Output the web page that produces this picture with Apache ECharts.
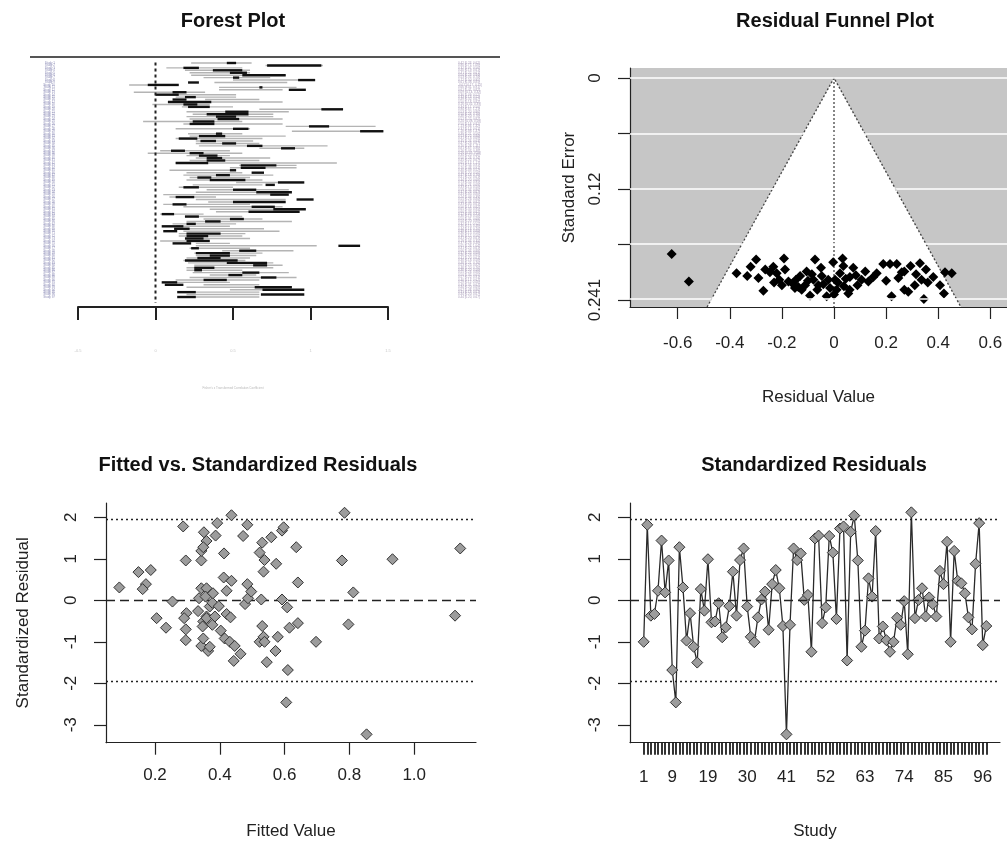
<!DOCTYPE html>
<html><head><meta charset="utf-8">
<script src="https://cdn.jsdelivr.net/npm/echarts@6/dist/echarts.min.js"></script>
<style>html,body{margin:0;padding:0;background:#fff}#c{width:1007px;height:844px}</style>
</head><body><div id="c"></div>
<script>
// ---------- data ----------
const stdResiduals = [-1.0,1.82,-0.37,-0.33,0.23,1.44,0.19,0.96,-1.68,-2.46,
 1.28,0.31,-0.97,-0.31,-1.12,-1.50,0.27,-0.25,0.99,-0.53,
 -0.51,-0.07,-0.89,-0.65,-0.14,0.69,-0.37,0.97,1.25,-0.15,
 -0.88,-1.01,-0.41,0.02,0.21,-0.71,0.39,0.73,0.29,-0.62,
 -3.23,-0.59,1.25,0.97,1.13,0.01,0.13,-1.24,1.49,1.56,
 -0.55,-0.17,1.55,1.15,-0.45,1.73,1.78,-1.45,1.65,2.04,
 0.96,-1.12,-0.73,0.53,0.09,1.67,-0.92,-0.63,-0.96,-1.24,
 -1.0,-0.42,-0.59,-0.02,-1.30,2.12,-0.43,0.01,0.29,-0.39,
 0.07,-0.09,-0.39,0.71,0.39,1.41,-1.0,1.19,0.47,0.41,
 0.17,-0.41,-0.70,0.88,1.86,-1.08,-0.62];

const fittedValues = [0.090,0.149,0.172,0.162,0.187,0.205,0.234,0.254,0.287,0.295,
 0.297,0.290,0.295,0.295,0.333,0.336,0.343,0.343,0.343,0.351,
 0.359,0.349,0.359,0.356,0.349,0.347,0.359,0.359,0.369,0.377,
 0.379,0.377,0.343,0.349,0.364,0.369,0.385,0.387,0.392,0.403,
 0.397,0.413,0.421,0.412,0.436,0.436,0.415,0.431,0.421,0.433,
 0.446,0.443,0.464,0.472,0.485,0.478,0.485,0.487,0.497,0.523,
 0.528,0.531,0.538,0.535,0.523,0.531,0.535,0.538,0.545,0.559,
 0.574,0.572,0.579,0.592,0.597,0.592,0.608,0.615,0.636,0.641,
 0.641,0.610,0.605,0.697,0.777,0.785,0.812,0.797,0.853,0.933,
 1.126,1.142];
const fittedResiduals = [0.31,0.68,0.39,0.27,0.73,-0.43,-0.66,-0.03,1.78,0.96,
 -0.31,-0.43,-0.70,-0.96,-0.26,0.05,0.29,0.96,1.19,1.64,
 1.43,1.28,0.29,0.09,-0.51,-0.63,-0.39,-0.43,-0.15,-0.06,
 0.17,-0.59,-1.10,-0.92,-1.22,-1.12,-0.39,1.56,1.86,-0.73,
 -0.14,1.13,0.23,0.55,2.05,0.47,-0.92,-1.0,-0.33,-0.41,
 -1.10,-1.46,-1.29,1.55,1.82,-0.09,0.39,0.05,0.21,1.15,
 0.02,1.39,0.97,0.69,-1.0,-0.62,-0.88,-1.0,-1.49,1.52,
 0.88,-1.22,-0.88,1.68,1.76,0.02,-0.17,-0.66,1.28,0.43,
 -0.55,-1.68,-2.46,-1.0,0.96,2.11,0.19,-0.58,-3.23,0.99,
 -0.37,1.25];

const funnelResiduals = [-0.623,-0.557,-0.374,-0.333,-0.299,-0.290,-0.271,-0.264,-0.246,-0.233,
 -0.220,-0.210,-0.192,-0.188,-0.175,-0.159,-0.146,-0.137,-0.124,-0.111,
 -0.105,-0.092,-0.073,-0.079,-0.064,-0.047,-0.041,-0.028,-0.022,-0.003,
 0.004,0.010,0.023,0.033,0.036,0.038,0.055,0.061,0.074,0.084,
 0.106,0.132,0.151,0.164,0.189,0.215,0.221,0.241,0.247,0.260,
 0.270,0.285,0.294,0.315,0.330,0.336,0.345,0.353,0.381,0.407,
 0.422,0.426,0.452,
 -0.200,-0.150,-0.100,-0.060,-0.015,0.015,0.045,-0.130,-0.050,0.090,
 0.120,0.200,0.310,-0.230,-0.320,0.000,-0.085,0.060,0.360,0.270];
const funnelSE = [0.191,0.221,0.212,0.215,0.197,0.217,0.231,0.208,0.211,0.205,
 0.212,0.219,0.196,0.208,0.221,0.223,0.219,0.227,0.230,0.225,
 0.210,0.236,0.197,0.219,0.230,0.215,0.224,0.237,0.219,0.200,
 0.219,0.230,0.212,0.196,0.204,0.226,0.234,0.216,0.206,0.214,
 0.219,0.221,0.216,0.212,0.202,0.202,0.237,0.202,0.217,0.211,
 0.230,0.232,0.204,0.213,0.201,0.219,0.240,0.208,0.216,0.225,
 0.234,0.211,0.212,
 0.225,0.228,0.220,0.225,0.228,0.222,0.218,0.215,0.206,0.225,
 0.210,0.220,0.225,0.222,0.205,0.235,0.213,0.230,0.222,0.210];

const forestCiLo = [0.23,0.71,0.07,0.19,0.22,0.23,0.31,0.50,0.38,-0.17,
 0.41,0.41,-0.14,0.09,0.13,0.32,0.18,-0.02,0.17,0.67,
 0.20,0.24,0.20,0.22,-0.08,0.18,0.84,0.13,0.88,0.21,
 0.22,0.13,0.26,0.26,0.28,0.67,0.03,-0.05,0.20,0.26,
 0.22,0.13,0.54,0.48,0.09,0.20,0.18,0.22,0.20,0.52,
 0.24,0.15,0.33,0.26,0.05,0.09,0.26,0.34,0.05,0.18,
 0.35,0.39,0.03,0.19,0.31,0.20,0.11,0.13,0.18,0.18,
 0.15,0.15,0.20,0.03,0.26,0.26,0.22,0.43,0.25,0.26,
 0.20,0.18,0.21,0.25,0.20,0.20,0.24,0.35,0.22,0.13,
 0.11,0.31,0.20,0.48,0.18,0.20,0.20];
const forestCiHi = [0.62,1.08,0.56,0.61,0.61,0.84,0.74,0.95,0.85,0.15,
 0.91,0.82,0.32,0.52,0.52,0.67,0.82,0.35,0.50,1.21,
 0.86,0.76,0.76,0.82,0.56,0.82,1.42,0.61,1.47,0.56,
 0.84,0.69,0.63,0.67,1.11,0.96,0.48,0.56,0.48,0.74,
 0.67,1.17,0.91,0.91,0.52,0.56,0.76,0.61,0.69,0.95,
 0.69,0.50,0.86,0.67,0.80,0.39,0.84,0.82,0.61,0.82,
 0.95,0.82,0.31,0.56,0.69,0.88,0.52,0.48,0.70,0.80,
 0.58,0.56,0.61,0.35,0.48,1.04,0.61,0.89,0.69,0.65,
 0.61,0.58,0.76,0.82,0.76,0.56,0.86,0.65,0.91,0.67,
 0.48,0.67,0.69,0.86,0.67,0.67,0.67];
const forestSegLo = [0.46,0.72,0.18,0.37,0.48,0.56,0.50,0.92,0.21,-0.05,
 0.67,0.86,0.11,0.00,0.19,0.11,0.08,0.18,0.21,1.07,
 0.45,0.33,0.39,0.40,0.24,0.22,0.99,0.50,1.32,0.39,
 0.28,0.15,0.29,0.43,0.59,0.81,0.10,0.22,0.28,0.33,
 0.33,0.13,0.55,0.55,0.48,0.62,0.39,0.27,0.35,0.79,
 0.71,0.18,0.50,0.65,0.74,0.13,0.91,0.50,0.11,0.62,
 0.76,0.60,0.04,0.19,0.48,0.32,0.20,0.04,0.12,0.05,
 0.20,0.20,0.19,0.20,0.11,1.18,0.23,0.54,0.26,0.35,
 0.27,0.19,0.46,0.63,0.25,0.25,0.56,0.47,0.68,0.31,
 0.04,0.06,0.64,0.69,0.14,0.68,0.14];
const forestSegHi = [0.52,1.07,0.28,0.56,0.59,0.84,0.54,1.03,0.28,0.15,
 0.69,0.97,0.20,0.15,0.26,0.20,0.36,0.27,0.35,1.21,
 0.60,0.60,0.52,0.54,0.38,0.38,1.12,0.60,1.47,0.43,
 0.45,0.27,0.39,0.52,0.69,0.90,0.19,0.31,0.40,0.43,
 0.45,0.34,0.78,0.71,0.52,0.70,0.48,0.36,0.58,0.96,
 0.77,0.28,0.65,0.88,0.86,0.25,1.02,0.84,0.20,0.77,
 0.97,0.93,0.12,0.28,0.57,0.42,0.26,0.18,0.22,0.14,
 0.42,0.34,0.31,0.35,0.23,1.32,0.28,0.65,0.48,0.48,
 0.42,0.53,0.72,0.72,0.38,0.30,0.67,0.56,0.78,0.46,
 0.14,0.18,0.88,0.96,0.26,0.96,0.26];

const forestTicks = [-0.5, 0, 0.5, 1, 1.5];
const funnelXTicks = [-0.6, -0.4, -0.2, 0, 0.2, 0.4, 0.6];
const funnelYTicks = [0, 0.06025, 0.1205, 0.18075, 0.241];
const funnelYLabelValues = [0, 0.1205, 0.241];
const funnelYLabelText = ['0', '0.12', '0.241'];
const residTicks = [-3, -2, -1, 0, 1, 2];
const fittedTicks = [0.2, 0.4, 0.6, 0.8, 1.0];
const studyLabelValues = [1, 9, 19, 30, 41, 52, 63, 74, 85, 96];
const refLines = [-1.96, 0, 1.96];
const zCrit = 1.96;

// ---------- chart ----------
const FONT = '"Liberation Sans", Arial, sans-serif';
const INK = '#222';
const nForest = forestCiLo.length;
const studyTicks = stdResiduals.map((v, i) => i + 1);

function axisBase(extra) {
  return Object.assign({
    type: 'value',
    axisLine: { show: true, onZero: false, lineStyle: { color: INK, width: 1.2 } },
    axisTick: { show: true, length: 12, lineStyle: { color: INK, width: 1.2 } },
    axisLabel: { color: INK, fontSize: 17, fontFamily: FONT },
    splitLine: { show: false },
    nameTextStyle: { color: INK, fontSize: 17, fontFamily: FONT },
    nameLocation: 'middle'
  }, extra);
}

const forestMaxRow = 101.1;
const funnelSeMax = 0.2486;

function titleText(text, x, y) {
  return { type: 'text', style: { text: text, x: x, y: y, textAlign: 'center', textVerticalAlign: 'middle',
    align: 'center', verticalAlign: 'middle', font: 'bold 20px ' + FONT, fill: '#111' } };
}

const option = {
  animation: false,
  backgroundColor: '#fff',
  textStyle: { fontFamily: FONT },
  graphic: [
    { type: 'line', shape: { x1: 30, y1: 57, x2: 500, y2: 57 }, style: { stroke: '#555', lineWidth: 2 } },
    titleText('Forest Plot', 233, 21),
    titleText('Residual Funnel Plot', 835, 21),
    titleText('Fitted vs. Standardized Residuals', 258, 465),
    titleText('Standardized Residuals', 814, 465)
  ],
  grid: [
    { left: 78, top: 60.56, width: 310, height: 246.44 },
    { left: 630, top: 68, width: 377, height: 239, show: true, backgroundColor: '#c6c6c6', borderWidth: 0 },
    { left: 106, top: 503, width: 370, height: 239.7 },
    { left: 630, top: 503, width: 370, height: 239.7 }
  ],
  xAxis: [
    axisBase({ gridIndex: 0, position: 'bottom', min: -0.5, max: 1.5, interval: 0.5,
      axisLine: { show: true, onZero: false, lineStyle: { color: INK, width: 2 } },
      axisTick: { show: true, length: 13, lineStyle: { color: INK, width: 2 } },
      axisLabel: { color: '#c8c8c8', fontSize: 4, margin: 42, fontFamily: FONT },
      name: "Fisher's z Transformed Correlation Coefficient", nameGap: 80,
      nameTextStyle: { color: '#b8b8b8', fontSize: 3, fontFamily: FONT } }),
    axisBase({ gridIndex: 1, position: 'bottom', min: -0.7831, max: 0.6641,
      axisTick: { show: true, length: 12, customValues: funnelXTicks, lineStyle: { color: INK, width: 1.2 } },
      axisLabel: { color: INK, fontSize: 17, fontFamily: FONT, margin: 28, customValues: funnelXTicks },
      name: 'Residual Value', nameGap: 82 }),
    axisBase({ gridIndex: 2, min: 0.0488, max: 1.1907,
      axisTick: { show: true, length: 12, customValues: fittedTicks, lineStyle: { color: INK, width: 1.2 } },
      axisLabel: { color: INK, fontSize: 17, fontFamily: FONT, margin: 24, customValues: fittedTicks, formatter: v => v.toFixed(1) },
      name: 'Fitted Value', nameGap: 80 }),
    axisBase({ gridIndex: 3, min: -2.84, max: 100.84,
      axisTick: { show: true, length: 12, customValues: studyTicks, lineStyle: { color: '#111', width: 1.7 } },
      axisLabel: { color: INK, fontSize: 17, fontFamily: FONT, margin: 26, customValues: studyLabelValues },
      name: 'Study', nameGap: 80 })
  ],
  yAxis: [
    { type: 'value', gridIndex: 0, inverse: true, min: 0, max: forestMaxRow, interval: 1,
      axisLine: { show: false }, axisTick: { show: false }, splitLine: { show: false },
      axisLabel: { show: true, fontSize: 3, color: '#8f8fb8', margin: 23, fontFamily: FONT,
        formatter: v => (v >= 1 && v <= nForest ? 'Study ' + v : '') } },
    { type: 'value', gridIndex: 0, position: 'right', inverse: true, min: 0, max: forestMaxRow, interval: 1,
      axisLine: { show: false }, axisTick: { show: false }, splitLine: { show: false },
      axisLabel: { show: true, fontSize: 3, color: '#a89cb8', margin: 70, align: 'left', fontFamily: FONT,
        formatter: v => {
          if (v < 1 || v > nForest) return '';
          const lo = forestCiLo[v - 1], hi = forestCiHi[v - 1];
          return ((lo + hi) / 2).toFixed(2) + ' [' + lo.toFixed(2) + ', ' + hi.toFixed(2) + ']';
        } } },
    axisBase({ gridIndex: 1, inverse: true, min: -0.01086, max: funnelSeMax,
      axisTick: { show: true, length: 12, customValues: funnelYTicks, lineStyle: { color: INK, width: 1.2 } },
      axisLabel: { color: INK, fontSize: 17, fontFamily: FONT, rotate: 90, margin: 26,
        customValues: funnelYLabelValues, formatter: v => funnelYLabelText[funnelYLabelValues.indexOf(v)] },
      name: 'Standard Error', nameGap: 52 }),
    axisBase({ gridIndex: 2, min: -3.431, max: 2.345,
      axisTick: { show: true, length: 12, customValues: residTicks, lineStyle: { color: INK, width: 1.2 } },
      axisLabel: { color: INK, fontSize: 17, fontFamily: FONT, rotate: 90, margin: 26, customValues: residTicks },
      name: 'Standardized Residual', nameGap: 74 }),
    axisBase({ gridIndex: 3, min: -3.431, max: 2.345,
      axisTick: { show: true, length: 12, customValues: residTicks, lineStyle: { color: INK, width: 1.2 } },
      axisLabel: { color: INK, fontSize: 17, fontFamily: FONT, rotate: 90, margin: 26, customValues: residTicks } })
  ],
  series: [
    // forest: CI lines (gray)
    { type: 'custom', xAxisIndex: 0, yAxisIndex: 0, z: 2, silent: true,
      data: forestCiLo.map((lo, i) => [lo, forestCiHi[i], i + 1]),
      encode: { x: [0, 1], y: 2 },
      renderItem: (p, api) => {
        const a = api.coord([api.value(0), api.value(2)]);
        const b = api.coord([api.value(1), api.value(2)]);
        return { type: 'line', shape: { x1: a[0], y1: a[1], x2: b[0], y2: b[1] }, style: { stroke: '#b4b4b4', lineWidth: 1.4 } };
      } },
    // forest: black segments
    { type: 'custom', xAxisIndex: 0, yAxisIndex: 0, z: 3, silent: true,
      data: forestSegLo.map((lo, i) => [lo, forestSegHi[i], i + 1]),
      encode: { x: [0, 1], y: 2 },
      renderItem: (p, api) => {
        const a = api.coord([api.value(0), api.value(2)]);
        const b = api.coord([api.value(1), api.value(2)]);
        return { type: 'line', shape: { x1: a[0], y1: a[1], x2: b[0], y2: b[1] }, style: { stroke: '#111', lineWidth: 2.4 } };
      } },
    // forest: dashed reference at 0
    { type: 'line', xAxisIndex: 0, yAxisIndex: 0, z: 4, symbol: 'none', silent: true,
      data: [[0, 0.8], [0, 99.5]], lineStyle: { color: '#222', width: 2, type: [3, 3] } },

    // funnel: white gridlines
    { type: 'line', xAxisIndex: 1, yAxisIndex: 2, z: 1, data: [], silent: true,
      markLine: { silent: true, symbol: 'none', label: { show: false },
        lineStyle: { color: '#fff', width: 1.6, type: 'solid' },
        data: funnelYTicks.map(v => ({ yAxis: v })) } },
    // funnel: white region
    { type: 'custom', xAxisIndex: 1, yAxisIndex: 2, z: 2, silent: true,
      data: [[funnelSeMax]],
      renderItem: (p, api) => {
        const se = api.value(0);
        const pts = [api.coord([-zCrit * se, se]), api.coord([0, 0]), api.coord([zCrit * se, se])];
        return { type: 'polygon', shape: { points: pts }, style: { fill: '#fff' } };
      } },
    // funnel: dotted edges
    { type: 'line', xAxisIndex: 1, yAxisIndex: 2, z: 3, symbol: 'none', silent: true,
      data: [[-zCrit * funnelSeMax, funnelSeMax], [0, 0], [zCrit * funnelSeMax, funnelSeMax]],
      lineStyle: { color: '#444', width: 1.3, type: [2, 2] } },
    { type: 'line', xAxisIndex: 1, yAxisIndex: 2, z: 3, symbol: 'none', silent: true,
      data: [[0, 0], [0, funnelSeMax]],
      lineStyle: { color: '#444', width: 1.3, type: [2, 2] } },
    // funnel points
    { type: 'scatter', xAxisIndex: 1, yAxisIndex: 2, z: 4, symbol: 'diamond', symbolSize: 10,
      data: funnelResiduals.map((r, i) => [r, funnelSE[i]]),
      itemStyle: { color: '#000', opacity: 1 } },

    // fitted vs standardized
    { type: 'scatter', xAxisIndex: 2, yAxisIndex: 3, z: 4, symbol: 'diamond', symbolSize: 11,
      data: fittedValues.map((f, i) => [f, fittedResiduals[i]]),
      itemStyle: { color: '#9c9c9c', borderColor: '#333', borderWidth: 1, opacity: 1 },
      markLine: { silent: true, symbol: 'none', label: { show: false }, z: 2,
        data: refLines.map(v => ({ yAxis: v, lineStyle: { color: '#222', width: 1.4, type: v === 0 ? [9, 5] : [2, 3] } })) } },

    // standardized residuals by study
    { type: 'line', xAxisIndex: 3, yAxisIndex: 4, z: 4, symbol: 'diamond', symbolSize: 11,
      showAllSymbol: true,
      data: stdResiduals.map((v, i) => [i + 1, v]),
      lineStyle: { color: '#2a2a2a', width: 1.3 },
      itemStyle: { color: '#9c9c9c', borderColor: '#333', borderWidth: 1 },
      markLine: { silent: true, symbol: 'none', label: { show: false },
        data: refLines.map(v => ({ yAxis: v, lineStyle: { color: '#222', width: 1.4, type: v === 0 ? [9, 5] : [2, 3] } })) } }
  ]
};

const chart = echarts.init(document.getElementById('c'), null, { renderer: 'canvas' });
chart.setOption(option);
</script>
</body></html>
